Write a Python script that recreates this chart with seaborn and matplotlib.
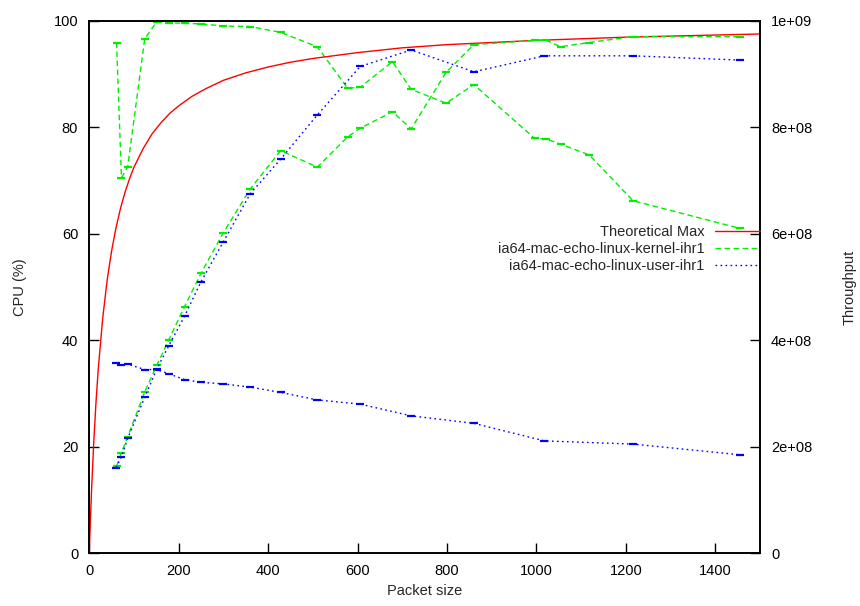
import matplotlib
matplotlib.use("Agg")
import matplotlib.pyplot as plt
from matplotlib.lines import Line2D
from matplotlib.ticker import FixedLocator, FuncFormatter
import seaborn as sns

# Packet sizes (bytes) for each run
kernel_size = [61, 72, 86, 124, 151, 178, 213, 250, 300, 360, 428, 510, 578, 606,
               678, 720, 798, 860, 996, 1022, 1054, 1118, 1216, 1455]
user_size = [60, 72, 86, 124, 151, 178, 213, 250, 300, 360, 428, 510, 606, 720,
             860, 1018, 1216, 1455]

# CPU utilisation (%)
kernel_cpu = [95.9, 70.5, 72.6, 96.6, 99.8, 99.6, 99.5, 99.4, 99.0, 98.9, 97.8, 95.1,
              87.3, 87.5, 92.3, 87.1, 84.5, 88.0, 77.9, 77.8, 76.8, 74.8, 66.2, 61.0]
user_cpu = [35.8, 35.3, 35.5, 34.5, 34.5, 33.7, 32.6, 32.1, 31.8, 31.2, 30.2, 28.8,
            28.0, 25.8, 24.4, 21.1, 20.5, 18.5]

# Throughput (bit/s)
kernel_tput = [1.63e8, 1.89e8, 2.19e8, 3.03e8, 3.53e8, 4.01e8, 4.63e8, 5.26e8, 6.02e8,
               6.84e8, 7.56e8, 7.25e8, 7.82e8, 7.98e8, 8.29e8, 7.97e8, 9.03e8, 9.55e8,
               9.63e8, 9.63e8, 9.51e8, 9.59e8, 9.70e8, 9.70e8]
user_tput = [1.61e8, 1.81e8, 2.16e8, 2.93e8, 3.46e8, 3.90e8, 4.45e8, 5.10e8, 5.85e8,
             6.75e8, 7.40e8, 8.23e8, 9.14e8, 9.45e8, 9.04e8, 9.34e8, 9.34e8, 9.26e8]

# Theoretical maximum throughput of gigabit ethernet
max_size = [0, 2, 5, 10, 15, 20, 30, 40, 50, 60, 70, 80, 90, 100, 120, 140, 160, 180,
            200, 230, 260, 300, 350, 400, 450, 500, 600, 700, 800, 900, 1000, 1200, 1500]
max_tput = [0.0, 0.50e8, 1.16e8, 2.08e8, 2.83e8, 3.45e8, 4.41e8, 5.13e8, 5.68e8,
            6.12e8, 6.48e8, 6.78e8, 7.03e8, 7.25e8, 7.59e8, 7.87e8, 8.08e8, 8.26e8,
            8.40e8, 8.58e8, 8.72e8, 8.88e8, 9.02e8, 9.13e8, 9.22e8, 9.29e8, 9.40e8,
            9.49e8, 9.55e8, 9.59e8, 9.63e8, 9.69e8, 9.75e8]

sns.set_theme(style="white")
plt.rcParams['font.family'] = ['Liberation Sans', 'DejaVu Sans']
plt.rcParams['font.size'] = 10.5

fig = plt.figure(figsize=(8.6, 6.06), dpi=100)
ax = fig.add_axes([0.1038, 0.0870, 0.7799, 0.8789])
ax2 = ax.twinx()

red, green, blue = "#ff0000", "#00ee00", "#0000ff"
kern_dash = (4, 2.5)
user_dash = (1.2, 2.4)
kern_style = dict(color=green, lw=1.0, dashes=kern_dash, marker="_", markersize=6,
                  markeredgewidth=1.6, markeredgecolor=green, sort=False,
                  estimator=None)
user_style = dict(color=blue, lw=1.0, dashes=user_dash, marker="_", markersize=6,
                  markeredgewidth=1.6, markeredgecolor=blue, sort=False,
                  estimator=None)

sns.lineplot(x=max_size, y=max_tput, ax=ax2, color=red, lw=1.0, sort=False,
             estimator=None)
sns.lineplot(x=kernel_size, y=kernel_tput, ax=ax2, **kern_style)
sns.lineplot(x=user_size, y=user_tput, ax=ax2, **user_style)
sns.lineplot(x=kernel_size, y=kernel_cpu, ax=ax, **kern_style)
sns.lineplot(x=user_size, y=user_cpu, ax=ax, **user_style)

ax.set_xlim(0, 1500)
ax.set_ylim(0, 100)
ax2.set_ylim(0, 1e9)

ax.xaxis.set_major_locator(FixedLocator(range(0, 1401, 200)))
ax.yaxis.set_major_locator(FixedLocator(range(0, 101, 20)))
ax2.yaxis.set_major_locator(FixedLocator([0, 2e8, 4e8, 6e8, 8e8, 1e9]))


def sci(v, _):
    if v == 0:
        return "0"
    m, e = f"{v:.0e}".split("e")
    return f"{m}e+{int(e):02d}"


ax2.yaxis.set_major_formatter(FuncFormatter(sci))

for a in (ax, ax2):
    for s in a.spines.values():
        s.set_color("black")
        s.set_linewidth(1.2)
ax.tick_params(axis="both", direction="in", length=7, width=1, colors="black",
               labelsize=10.5, pad=8, left=True, bottom=True, top=False, right=False)
ax2.tick_params(axis="y", direction="in", length=7, width=1, colors="black",
                labelsize=10.5, pad=8, right=True)

ax.set_xlabel("Packet size", fontsize=10.5, labelpad=4)
ax.set_ylabel("CPU (%)", fontsize=10.5, labelpad=19)
ax2.set_ylabel("Throughput", fontsize=10.5, labelpad=22, rotation=90)

handles = [
    Line2D([], [], color=red, lw=1.0),
    Line2D([], [], color=green, lw=1.0, dashes=kern_dash),
    Line2D([], [], color=blue, lw=1.0, dashes=user_dash),
]
labels = ["Theoretical Max", "ia64-mac-echo-linux-kernel-ihr1",
          "ia64-mac-echo-linux-user-ihr1"]
ax2.legend(handles, labels, loc="upper right", bbox_to_anchor=(1.0, 0.6165),
           frameon=False, markerfirst=False, borderaxespad=0, borderpad=0,
           handlelength=3.1, handletextpad=0.7, labelspacing=0.2, fontsize=10.5)

fig.savefig("out.png", dpi=100)
